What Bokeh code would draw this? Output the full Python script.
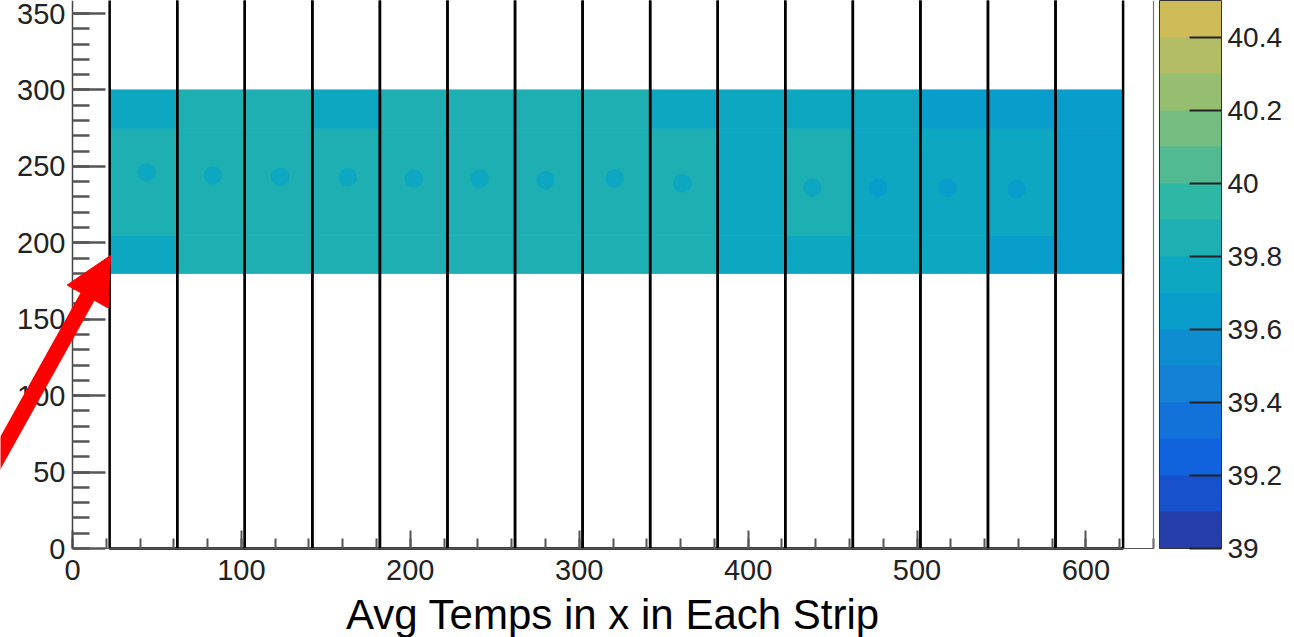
import numpy as np
from bokeh.plotting import figure
from bokeh.models import (Range1d, LinearColorMapper, ColorBar, FixedTicker, SingleIntervalTicker,
                          CustomJSTickFormatter, Arrow, NormalHead, ColumnDataSource, LinearAxis, Label)
from bokeh.embed import file_html
from bokeh.resources import INLINE

# ---------------- data ----------------
strip_edges = [22, 62, 102, 142, 182, 222, 262, 302, 342, 382, 422, 462, 502, 542, 582, 622]
row_edges = [180, 205, 275, 300]
temp_bottom = [39.79, 39.85, 39.86, 39.84, 39.85, 39.85, 39.84, 39.86, 39.81, 39.78, 39.79, 39.76, 39.70, 39.69, 39.68]
temp_middle = [39.81, 39.87, 39.88, 39.86, 39.87, 39.87, 39.86, 39.90, 39.83, 39.79, 39.81, 39.78, 39.71, 39.70, 39.69]
temp_top = [39.77, 39.83, 39.84, 39.79, 39.82, 39.84, 39.82, 39.84, 39.79, 39.76, 39.77, 39.74, 39.68, 39.67, 39.66]
spot_x = [44, 83, 123, 163, 202, 241, 280, 321, 361, 401, 438, 477, 518, 559, 601]
spot_y = [246, 244, 243, 243, 242, 242, 241, 242, 239, 238, 236, 236, 236, 235, 233]
spot_temp = [39.74, 39.78, 39.78, 39.77, 39.78, 39.78, 39.77, 39.79, 39.76, 39.70, 39.71, 39.69, 39.63, 39.62, 39.61]
box_bottom = 0
box_top = 420
x_max = 640
z_ticks = [39.0, 39.2, 39.4, 39.6, 39.8, 40.0, 40.2, 40.4]
z_low, z_high = 39.0, 40.5
arrow_x = [-48.5, 22.5]
arrow_y = [51, 191.7]
x_title = "Avg Temps in x in Each Strip"

# ---------------- palette (ROOT kBird, 20 contours, lower 15 shown) ----------------
stops = [0.0, 0.125, 0.25, 0.375, 0.5, 0.625, 0.75, 0.875, 1.0]
red = [0.2082, 0.0592, 0.0780, 0.0232, 0.1802, 0.5301, 0.8186, 0.9956, 0.9764]
green = [0.1664, 0.3599, 0.5041, 0.6419, 0.7178, 0.7492, 0.7328, 0.7862, 0.9832]
blue = [0.5293, 0.8684, 0.8385, 0.7914, 0.6425, 0.4662, 0.3499, 0.1968, 0.0539]
palette = []
for i in range(15):
    f = (i + 0.99) / 20.0
    r = np.interp(f, stops, red); g = np.interp(f, stops, green); b = np.interp(f, stops, blue)
    palette.append("#%02x%02x%02x" % (int(round(r * 255)), int(round(g * 255)), int(round(b * 255))))

mapper = LinearColorMapper(palette=palette, low=z_low, high=z_high)

# ---------------- figure ----------------
# The view covers the whole canvas so that the arrow, axes and colour bar
# can all be drawn in place; axes sit at fixed data locations.
FONT = "Liberation Sans"
W, H = 1294, 637
PX_X = 1081 / 640.0      # pixels per x unit
PX_Y = 548 / 358.5       # pixels per y unit
x0 = -72 / PX_X
y1 = 358.5
y0 = y1 - H / PX_Y
p = figure(frame_width=W, frame_height=H, output_backend="svg", toolbar_location=None,
           x_range=Range1d(x0, x0 + W / PX_X), y_range=Range1d(y0, y1),
           x_axis_location=None, y_axis_location=None,
           min_border_left=0, min_border_top=0, min_border_right=0, min_border_bottom=0)
p.background_fill_color = "white"
p.border_fill_color = "white"
p.outline_line_color = None
p.grid.visible = False

# heat cells
cl, cr, cb_, ct, cv = [], [], [], [], []
for rows, (lo, hi) in zip([temp_bottom, temp_middle, temp_top],
                          zip(row_edges[:-1], row_edges[1:])):
    for j, v in enumerate(rows):
        cl.append(strip_edges[j]); cr.append(strip_edges[j + 1])
        cb_.append(lo); ct.append(hi); cv.append(v)
heat = ColumnDataSource(dict(left=cl, right=cr, bottom=cb_, top=ct, v=cv))
p.quad(left="left", right="right", bottom="bottom", top="top", source=heat,
       fill_color={"field": "v", "transform": mapper},
       line_color={"field": "v", "transform": mapper}, line_width=1)

# spots
spots = ColumnDataSource(dict(x=spot_x, y=spot_y, v=spot_temp))
p.circle(x="x", y="y", radius=5.5, source=spots,
         fill_color={"field": "v", "transform": mapper}, line_color=None)

# strip boxes
p.quad(left=strip_edges[:-1], right=strip_edges[1:],
       bottom=[box_bottom] * (len(strip_edges) - 1), top=[box_top] * (len(strip_edges) - 1),
       fill_color=None, line_color="black", line_width=2.5)

# x axis at y = 0
xa = LinearAxis(fixed_location=0, bounds=(0, x_max))
xa.ticker = SingleIntervalTicker(interval=100, num_minor_ticks=5)
xa.major_tick_in = 18; xa.major_tick_out = 0
xa.minor_tick_in = 10; xa.minor_tick_out = 0
xa.major_tick_line_color = "#555555"; xa.minor_tick_line_color = "#555555"
xa.major_tick_line_width = 2; xa.minor_tick_line_width = 2
xa.axis_line_color = "#555555"; xa.axis_line_width = 1.2
xa.major_label_text_font = FONT; xa.major_label_text_font_size = "29px"
xa.major_label_text_color = "#222222"
xa.major_label_standoff = 11
p.add_layout(xa, "below")

# y axis at x = 0
ya = LinearAxis(fixed_location=0, bounds=(0, box_top))
ya.ticker = SingleIntervalTicker(interval=50, num_minor_ticks=5)
ya.major_tick_in = 33; ya.major_tick_out = 0
ya.minor_tick_in = 17; ya.minor_tick_out = 0
ya.major_tick_line_color = "#555555"; ya.minor_tick_line_color = "#555555"
ya.major_tick_line_width = 2.5; ya.minor_tick_line_width = 2.5
ya.axis_line_color = "#444444"; ya.axis_line_width = 1.5
ya.major_label_text_font = FONT; ya.major_label_text_font_size = "29px"
ya.major_label_text_color = "#222222"
ya.major_label_standoff = 7
p.add_layout(ya, "left")

# right frame edge (axis line only)
ra = LinearAxis(fixed_location=x_max, bounds=(0, box_top), ticker=FixedTicker(ticks=[]))
ra.axis_line_color = "#777777"; ra.axis_line_width = 1.2
ra.major_tick_line_color = None; ra.minor_tick_line_color = None
p.add_layout(ra, "right")

# axis title
p.add_layout(Label(x=x_max / 2, y=-66 / PX_Y, text=x_title,
                   text_align="center", text_baseline="alphabetic",
                   text_font=FONT, text_font_size="42px", text_color="black"))

# colour bar (placed in screen units from the bottom-left of the view)
cbar = ColorBar(color_mapper=mapper, width=62, height=548, padding=0, margin=0,
                location=(1159, H - 548),
                ticker=FixedTicker(ticks=z_ticks),
                formatter=CustomJSTickFormatter(code="return tick.toFixed(1).replace(/\\.0$/, '');"),
                major_tick_in=32, major_tick_out=0,
                major_tick_line_color="#222222", major_tick_line_width=2,
                minor_tick_line_color=None,
                major_label_text_font=FONT, major_label_text_font_size="28px",
                major_label_text_color="#222222", label_standoff=6,
                bar_line_color="#333333", bar_line_width=1,
                border_line_color=None, background_fill_color=None)
p.add_layout(cbar)

# red arrow
p.add_layout(Arrow(x_start=arrow_x[0], y_start=arrow_y[0], x_end=arrow_x[1], y_end=arrow_y[1],
                   line_color="red", line_width=16,
                   end=NormalHead(size=47, fill_color="red", line_color="red", line_width=1)))

open("out.html", "w").write(file_html(p, INLINE))
